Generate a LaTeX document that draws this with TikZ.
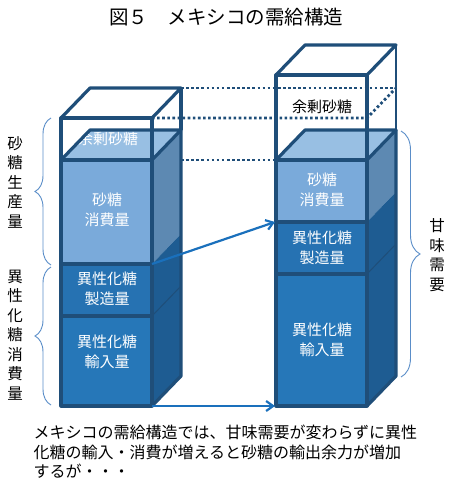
\documentclass[tikz,border=0pt]{standalone}
\usepackage{fontspec}
\setmainfont{Noto Sans CJK JP}
\usepackage{tikz}
\usetikzlibrary{decorations.pathreplacing}
\usetikzlibrary{arrows.meta}

\definecolor{navy}{HTML}{1F4E79}
\definecolor{sugarF}{HTML}{7AAADA}
\definecolor{sugarS}{HTML}{5D89B2}
\definecolor{topF}{HTML}{98BFE3}
\definecolor{prodF}{HTML}{2672B2}
\definecolor{impF}{HTML}{2677B8}
\definecolor{hfcsS}{HTML}{1E5C92}
\definecolor{arrowblue}{HTML}{1A70BC}
\definecolor{braceblue}{HTML}{5A8DC8}

\begin{document}
\begin{tikzpicture}[x=1pt, y=-1pt, >={Straight Barb[length=7pt, width=10pt]},
	edge/.style={navy, line width=3.2pt, line join=round},
	dots/.style={navy, line width=2.8pt, dash pattern=on 2.6pt off 2.5pt},
	lab/.style={text=white, align=center, font=\fontsize{15}{20}\selectfont},
	vtext/.style={align=center, font=\fontsize{15.5}{19.5}\selectfont},
	brc/.style={braceblue, line width=0.9pt, decorate}]
				\useasboundingbox (0,0) rectangle (453,486);
				
				% 1. タイトル
				\node[font=\fontsize{19.5}{22}\selectfont] (title) at (226,17) {図５　メキシコの需給構造};
				
				% 2. 左右の箱をつなぐ点線
				\draw[dots] (181,88) -- (396,88);
				\draw[dots] (152,118) -- (367,118) -- (396,88);
				\draw[dots] (181,160) -- (276,160);
				
				% 3. 左の箱 (現状)
				% 側面
				\fill[sugarS] (152,160) -- (181,130) -- (181,234) -- (152,264) -- cycle;
				\fill[hfcsS] (152,264) -- (181,234) -- (181,376) -- (152,406) -- cycle;
				\draw[navy, line width=1pt] (152,316) -- (181,286);
				% 上面と正面
				\fill[topF] (61,160) -- (90,130) -- (181,130) -- (152,160) -- cycle;
				\fill[sugarF] (61,160) rectangle (152,264);
				\fill[prodF] (61,264) rectangle (152,316);
				\fill[impF] (61,316) rectangle (152,406);
				\node[lab] (lSurplus) at (108,139) {余剰砂糖};
				% 輪郭
				\draw[edge] (61,160) rectangle (152,406);
				\draw[edge] (61,264) -- (152,264);
				\draw[edge] (61,316) -- (152,316);
				\draw[edge] (61,160) -- (90,130) -- (181,130) -- (152,160);
				\draw[edge] (152,406) -- (181,376) -- (181,130);
				% 枠線 (余剰分)
				\draw[edge] (61,160) -- (61,118) -- (152,118) -- (152,160);
				\draw[edge] (61,118) -- (90,88) -- (181,88) -- (152,118);
				\draw[edge] (181,88) -- (181,130);
				\node[lab] (lSugar) at (107,210) {砂糖\\消費量};
				\node[lab] (lProd) at (107,289) {異性化糖\\製造量};
				\node[lab] (lImp) at (107,352) {異性化糖\\輸入量};
				
				% 4. 右の箱 (異性化糖の輸入増加後)
				% 側面
				\fill[sugarS] (367,160) -- (396,130) -- (396,192) -- (367,222) -- cycle;
				\fill[hfcsS] (367,222) -- (396,192) -- (396,376) -- (367,406) -- cycle;
				\draw[navy, line width=1pt] (367,274) -- (396,244);
				% 上面と正面
				\fill[topF] (276,160) -- (305,130) -- (396,130) -- (367,160) -- cycle;
				\fill[sugarF] (276,160) rectangle (367,222);
				\fill[prodF] (276,222) rectangle (367,274);
				\fill[impF] (276,274) rectangle (367,406);
				% 輪郭
				\draw[edge] (276,160) rectangle (367,406);
				\draw[edge] (276,222) -- (367,222);
				\draw[edge] (276,274) -- (367,274);
				\draw[edge] (276,160) -- (305,130) -- (396,130) -- (367,160);
				\draw[edge] (367,406) -- (396,376) -- (396,130);
				% 枠線 (余剰分)
				\draw[edge] (276,160) -- (276,75) -- (367,75) -- (367,160);
				\draw[edge] (276,75) -- (305,45) -- (396,45) -- (367,75);
				\draw[navy, line width=2.2pt] (396,45) -- (396,130);
				\node[font=\fontsize{15}{20}\selectfont] (rSurplus) at (322,107) {余剰砂糖};
				\node[lab] (rSugar) at (322,190) {砂糖\\消費量};
				\node[lab] (rProd) at (322,248) {異性化糖\\製造量};
				\node[lab] (rImp) at (322,340) {異性化糖\\輸入量};
				
				% 5. 矢印
				\coordinate (lSugarBot) at (152,264);
				\coordinate (rSugarBot) at (275,222);
				\coordinate (lBot) at (152,406);
				\coordinate (rBot) at (275,406);
				\draw[->, arrowblue, line width=2.2pt] (lSugarBot) -- (rSugarBot);
				\draw[->, arrowblue, line width=2.2pt] (lBot) -- (rBot);
				
				% 6. 括弧と縦書きの説明
				\draw[brc, decoration={brace, amplitude=16pt}] (51,265) -- (51,118);
				\draw[brc, decoration={brace, amplitude=16pt}] (51,405) -- (51,267);
				\draw[brc, decoration={brace, amplitude=19pt}] (401,131) -- (401,377);
				\node[vtext] (prodText) at (15,182) {砂\\糖\\生\\産\\量};
				\node[vtext] (hfcsText) at (15,335) {異\\性\\化\\糖\\消\\費\\量};
				\node[vtext] (demandText) at (437,255) {甘\\味\\需\\要};
				
				% 7. 説明文
				\node[anchor=west, align=left, font=\fontsize{16}{19.5}\selectfont] (caption) at (30,452)
					{メキシコの需給構造では、甘味需要が変わらずに異性\\化糖の輸入・消費が増えると砂糖の輸出余力が増加\\するが・・・};
				
			\end{tikzpicture}
\end{document}
